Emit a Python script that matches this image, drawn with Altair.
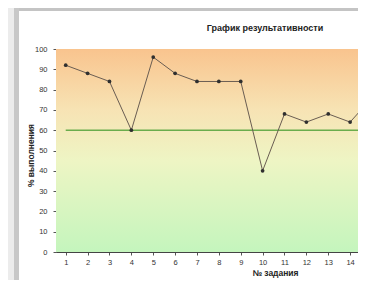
import altair as alt
import pandas as pd

# ---- data ----
tasks = list(range(1, 16))
percent = [92, 88, 84, 60, 96, 88, 84, 84, 84, 40, 68, 64, 68, 64, 76]
target_x = [1, 15]
target_y = [60, 60]
y_ticks = list(range(0, 101, 10))
x_ticks = list(range(1, 15))

title_text = "График результативности"
x_title = "№ задания"
y_title = "% выполнения"

FONT = "Liberation Sans"
W, H = 302, 203
X_DOMAIN = [0.556, 14.36]

df = pd.DataFrame({"task": tasks, "pct": percent})
df_target = pd.DataFrame({"task": target_x, "pct": target_y})

x_enc = alt.X(
    "task:Q",
    scale=alt.Scale(domain=X_DOMAIN, nice=False, zero=False),
    axis=alt.Axis(
        values=x_ticks, format="d", title=x_title, grid=False,
        labelFont=FONT, labelFontSize=7.5, labelColor="#333333",
        tickSize=3, tickColor="#555555", labelPadding=3,
        domainColor="#444444", domainWidth=1,
        titleFont=FONT, titleFontSize=8.5, titleFontWeight="bold",
        titleColor="#222222", titleX=219, titleY=16,
        titleAlign="center", titleBaseline="top",
    ),
)
y_enc = alt.Y(
    "pct:Q",
    scale=alt.Scale(domain=[0, 100], nice=False),
    axis=alt.Axis(
        values=y_ticks, title=y_title, grid=False,
        labelFont=FONT, labelFontSize=7.5, labelColor="#333333",
        tickSize=3, tickColor="#555555", labelPadding=6,
        domainColor="#444444", domainWidth=1,
        titleFont=FONT, titleFontSize=8.5, titleFontWeight="bold",
        titleColor="#222222", titleX=-21, titleY=106,
        titleAlign="center",
    ),
)

gradient = alt.Gradient(
    gradient="linear", x1=0, y1=0, x2=0, y2=1,
    stops=[
        alt.GradientStop(color="#f9c48e", offset=0),
        alt.GradientStop(color="#f7e3b4", offset=0.3),
        alt.GradientStop(color="#eef5c4", offset=0.55),
        alt.GradientStop(color="#c4f5bd", offset=1),
    ],
)

bg = alt.Chart(pd.DataFrame({"a": [0]})).mark_rect(fill=gradient).encode(
    x=alt.value(0), x2=alt.value(W), y=alt.value(0), y2=alt.value(H)
)

frame_top = alt.Chart(pd.DataFrame({"a": [0]})).mark_rect(color="#c4c4c4").encode(
    x=alt.value(-48), x2=alt.value(W), y=alt.value(-41), y2=alt.value(-38)
)
frame_left_light = alt.Chart(pd.DataFrame({"a": [0]})).mark_rect(color="#ececec").encode(
    x=alt.value(-48), x2=alt.value(-42), y=alt.value(-41), y2=alt.value(H + 30)
)
frame_left = alt.Chart(pd.DataFrame({"a": [0]})).mark_rect(color="#c8c8c8").encode(
    x=alt.value(-42), x2=alt.value(-37), y=alt.value(-41), y2=alt.value(H + 30)
)

target = alt.Chart(df_target).mark_line(color="#6aac4c", strokeWidth=1.6, clip=True).encode(
    x=x_enc, y=y_enc
)

line = alt.Chart(df).mark_line(color="#6a5d52", strokeWidth=1, clip=True).encode(
    x=x_enc, y=y_enc
)
points = alt.Chart(df).mark_point(
    filled=True, color="#2f2f2f", size=14, opacity=1, clip=True
).encode(x=x_enc, y=y_enc)

title = alt.Chart(pd.DataFrame({"t": [title_text]})).mark_text(
    font=FONT, fontSize=9, fontWeight="bold", color="#222222",
    align="center", baseline="middle",
).encode(x=alt.value(209), y=alt.value(-21), text="t:N")

chart = alt.layer(
    frame_top, frame_left_light, frame_left, bg, target, line, points, title
).properties(
    width=W, height=H,
    autosize=alt.AutoSizeParams(type="none"),
    padding={"left": 48, "top": 41, "right": 0, "bottom": 28},
).configure_view(stroke=None).configure(background="white")

chart.save("out.html", embed_options={"renderer": "svg", "actions": False})
